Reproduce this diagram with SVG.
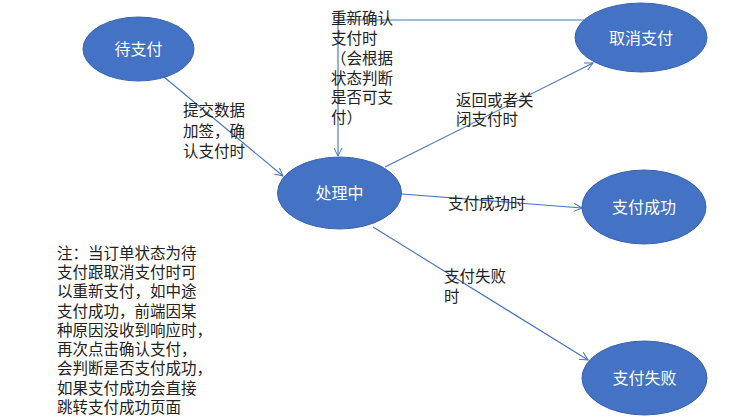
<svg xmlns="http://www.w3.org/2000/svg" width="748" height="418" viewBox="0 0 748 418">
<defs>
<style>
.node ellipse{fill:#4472C4;stroke:#3A64B0;stroke-width:1}
.node text{fill:#FFFFFF;font-family:"Noto Sans CJK SC",sans-serif;font-size:16px;text-anchor:middle}
.edge{fill:none;stroke:#4472C4;stroke-width:1.1}
.lbl{fill:#222222;font-family:"Noto Sans CJK SC",sans-serif;font-size:15.5px}
</style>
<marker id="arr" viewBox="0 0 10 10" refX="9" refY="5" markerWidth="9" markerHeight="9" orient="auto" markerUnits="userSpaceOnUse">
<path d="M0,0.5 L9,5 L0,9.5" fill="none" stroke="#4472C4" stroke-width="1.1"/>
</marker>
</defs>
<rect width="748" height="418" fill="#FFFFFF"/>
<g id="connectors">
<line class="edge" x1="164" y1="77" x2="283" y2="176" marker-end="url(#arr)"/>
<polyline class="edge" points="584,20 338,20 338,156" marker-end="url(#arr)"/>
<line class="edge" x1="385" y1="167" x2="593" y2="63" marker-end="url(#arr)"/>
<line class="edge" x1="402" y1="194" x2="582" y2="208" marker-end="url(#arr)"/>
<line class="edge" x1="373" y1="227" x2="588" y2="360" marker-end="url(#arr)"/>
</g>
<g id="node-pending" class="node">
<ellipse cx="138.5" cy="49" rx="55.5" ry="32"/>
<text x="138.5" y="55">待支付</text>
</g>
<g id="node-processing" class="node">
<ellipse cx="339.5" cy="193" rx="62" ry="36"/>
<text x="339.5" y="199">处理中</text>
</g>
<g id="node-cancel" class="node">
<ellipse cx="641" cy="37.5" rx="66" ry="34.5"/>
<text x="641" y="43.5">取消支付</text>
</g>
<g id="node-success" class="node">
<ellipse cx="644" cy="207" rx="62" ry="37"/>
<text x="644" y="213">支付成功</text>
</g>
<g id="node-fail" class="node">
<ellipse cx="644.5" cy="378" rx="62.5" ry="37"/>
<text x="644.5" y="384">支付失败</text>
</g>
<g id="labels">
<text class="lbl"><tspan x="183" y="116">提交数据</tspan><tspan x="183" y="137">加签，确</tspan><tspan x="183" y="157">认支付时</tspan></text>
<text class="lbl"><tspan x="331" y="24">重新确认</tspan><tspan x="331" y="44">支付时</tspan><tspan x="331" y="64">（会根据</tspan><tspan x="331" y="84">状态判断</tspan><tspan x="331" y="103">是否可支</tspan><tspan x="331" y="123">付）</tspan></text>
<text class="lbl"><tspan x="456" y="106">返回或者关</tspan><tspan x="456" y="125">闭支付时</tspan></text>
<text class="lbl" x="448" y="209">支付成功时</text>
<text class="lbl"><tspan x="444" y="282">支付失败</tspan><tspan x="444" y="302">时</tspan></text>
<text class="lbl"><tspan x="57" y="259">注：当订单状态为待</tspan><tspan x="57" y="278">支付跟取消支付时可</tspan><tspan x="57" y="297">以重新支付，如中途</tspan><tspan x="57" y="317">支付成功，前端因某</tspan><tspan x="57" y="336">种原因没收到响应时，</tspan><tspan x="57" y="355">再次点击确认支付，</tspan><tspan x="57" y="374">会判断是否支付成功，</tspan><tspan x="57" y="394">如果支付成功会直接</tspan><tspan x="57" y="413">跳转支付成功页面</tspan></text>
</g>
</svg>
